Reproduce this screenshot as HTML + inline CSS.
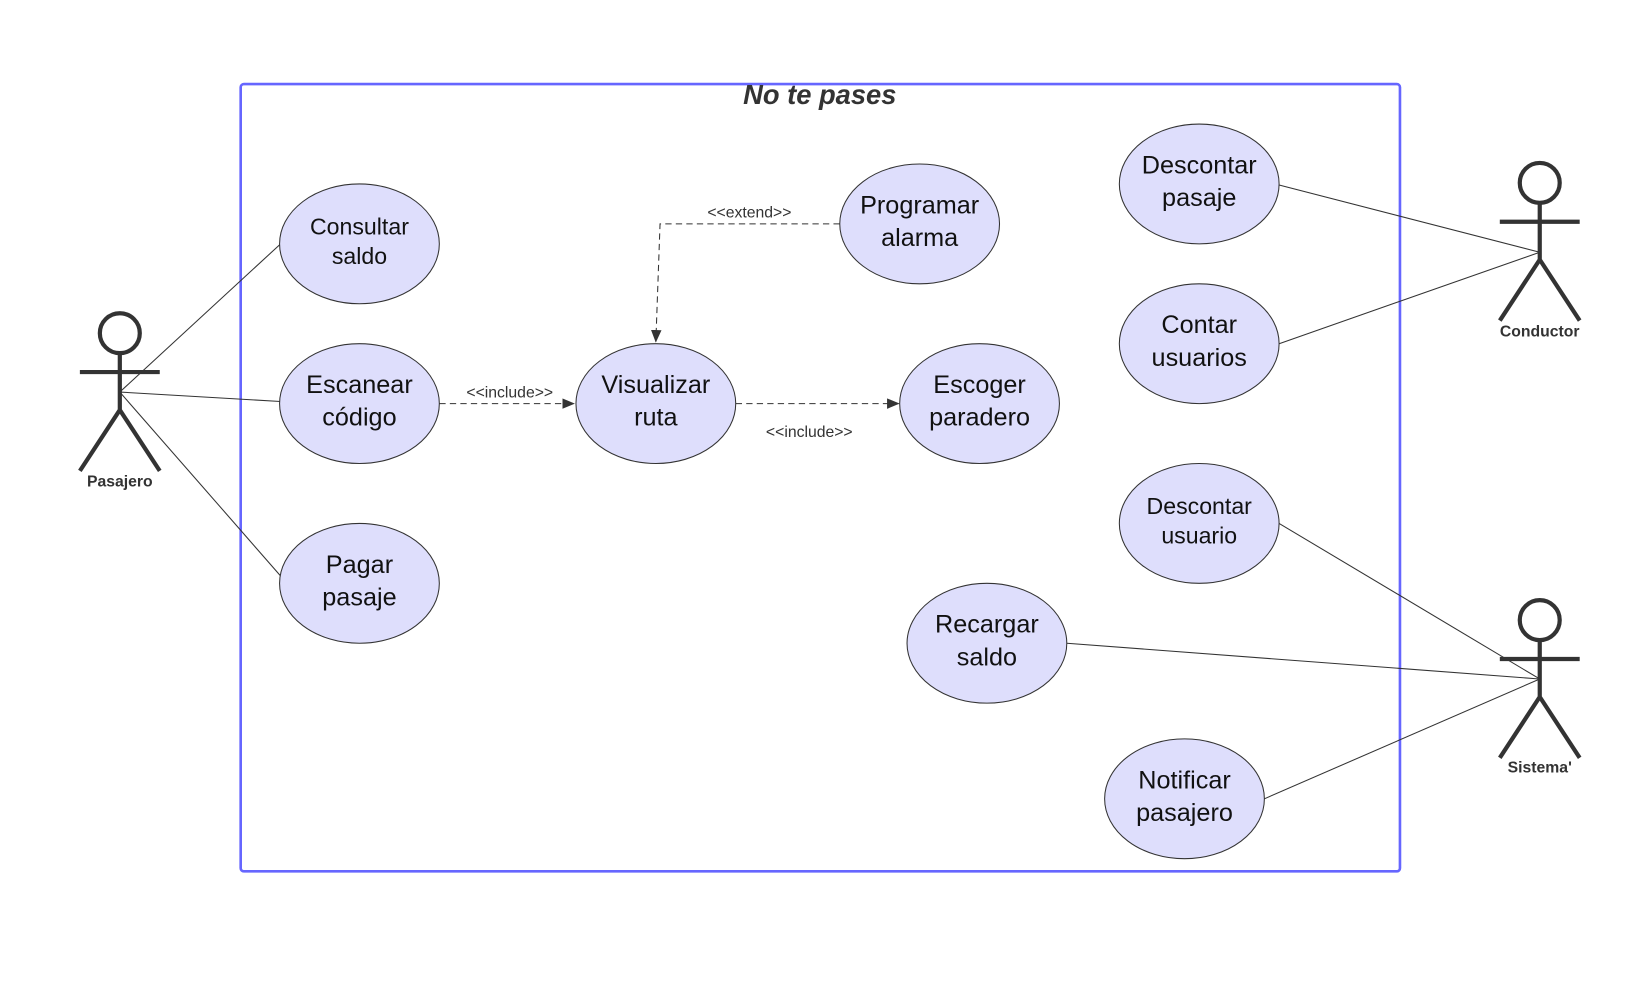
<!DOCTYPE html>
<html><head><meta charset="utf-8"><style>
html,body{margin:0;padding:0;background:#fff;}
svg{display:block;}
text{font-family:"Liberation Sans",sans-serif;}
</style></head><body>
<svg width="1648" height="988" viewBox="0 0 1568 940" xmlns="http://www.w3.org/2000/svg">
<defs><marker id="a" markerWidth="12" markerHeight="10" refX="11" refY="5" orient="auto" markerUnits="userSpaceOnUse"><path d="M0,0 L12,5 L0,10 z" fill="#333"/></marker></defs>
<rect x="229" y="80" width="1103" height="749" rx="3" fill="#fff" stroke="#6666ff" stroke-width="2.5"/>
<text x="780" y="99" text-anchor="middle" font-size="26" font-weight="bold" font-style="italic" fill="#333">No te pases</text>
<g stroke="#333" stroke-width="1" fill="none">
<line x1="114" y1="373" x2="267" y2="232"/>
<line x1="114" y1="373" x2="267" y2="382"/>
<line x1="114" y1="373" x2="267" y2="548"/>
<line x1="1217" y1="176" x2="1465" y2="240"/>
<line x1="1217" y1="327" x2="1465" y2="240"/>
<line x1="1217" y1="498" x2="1465" y2="646"/>
<line x1="1015" y1="612" x2="1465" y2="646"/>
<line x1="1203" y1="760" x2="1465" y2="646"/>
<path d="M418,384 L546,384" stroke-dasharray="6,4" marker-end="url(#a)"/>
<path d="M700,384 L855,384" stroke-dasharray="6,4" marker-end="url(#a)"/>
<path d="M799,213 L628,213 L624,325" stroke-dasharray="6,4" marker-end="url(#a)"/>
</g>
<g font-size="15" fill="#333" text-anchor="middle">
<rect x="436" y="363" width="98" height="18" fill="#fff"/>
<text x="485" y="378">&lt;&lt;include&gt;&gt;</text>
<text x="770" y="416">&lt;&lt;include&gt;&gt;</text>
<rect x="664" y="192" width="98" height="18" fill="#fff"/>
<text x="713" y="207">&lt;&lt;extend&gt;&gt;</text>
</g>
<g fill="#dedefc" stroke="#333" stroke-width="1">
<ellipse cx="342" cy="232" rx="76" ry="57"/>
<ellipse cx="342" cy="384" rx="76" ry="57"/>
<ellipse cx="342" cy="555" rx="76" ry="57"/>
<ellipse cx="624" cy="384" rx="76" ry="57"/>
<ellipse cx="875" cy="213" rx="76" ry="57"/>
<ellipse cx="932" cy="384" rx="76" ry="57"/>
<ellipse cx="1141" cy="175" rx="76" ry="57"/>
<ellipse cx="1141" cy="327" rx="76" ry="57"/>
<ellipse cx="1141" cy="498" rx="76" ry="57"/>
<ellipse cx="939" cy="612" rx="76" ry="57"/>
<ellipse cx="1127" cy="760" rx="76" ry="57"/>
</g>
<g font-size="24" fill="#111" text-anchor="middle">
<text x="342" y="223" font-size="22">Consultar</text><text x="342" y="251" font-size="22">saldo</text>
<text x="342" y="374">Escanear</text><text x="342" y="405">código</text>
<text x="342" y="545">Pagar</text><text x="342" y="576">pasaje</text>
<text x="624" y="374">Visualizar</text><text x="624" y="405">ruta</text>
<text x="875" y="203">Programar</text><text x="875" y="234">alarma</text>
<text x="932" y="374">Escoger</text><text x="932" y="405">paradero</text>
<text x="1141" y="165">Descontar</text><text x="1141" y="196">pasaje</text>
<text x="1141" y="317">Contar</text><text x="1141" y="348">usuarios</text>
<text x="1141" y="489" font-size="22">Descontar</text><text x="1141" y="517" font-size="22">usuario</text>
<text x="939" y="602">Recargar</text><text x="939" y="633">saldo</text>
<text x="1127" y="750">Notificar</text><text x="1127" y="781">pasajero</text>
</g>
<g stroke="#333" stroke-width="4" fill="none">
<g transform="translate(114,317)"><circle cx="0" cy="0" r="19"/><path d="M0,19 V73 M-38,37 H38 M0,73 L-38,131 M0,73 L38,131"/></g>
<g transform="translate(1465,174)"><circle cx="0" cy="0" r="19"/><path d="M0,19 V73 M-38,37 H38 M0,73 L-38,131 M0,73 L38,131"/></g>
<g transform="translate(1465,590)"><circle cx="0" cy="0" r="19"/><path d="M0,19 V73 M-38,37 H38 M0,73 L-38,131 M0,73 L38,131"/></g>
</g>
<g font-size="15" font-weight="bold" fill="#333" text-anchor="middle">
<text x="114" y="463">Pasajero</text>
<text x="1465" y="320">Conductor</text>
<text x="1465" y="735">Sistema'</text>
</g>
</svg>
</body></html>
